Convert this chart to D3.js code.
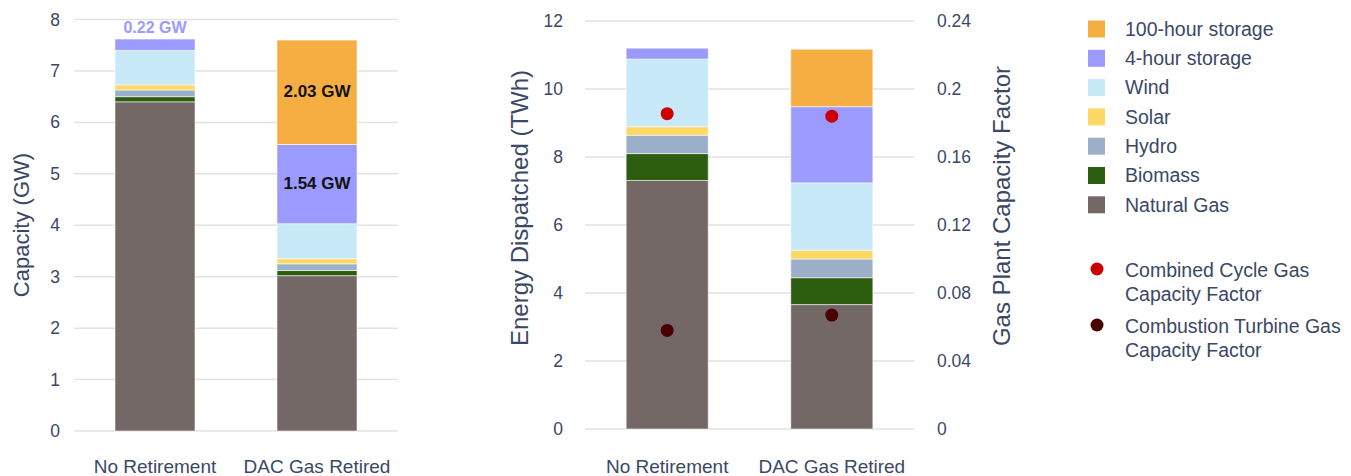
<!DOCTYPE html>
<html><head><meta charset="utf-8">
<script src="https://cdn.jsdelivr.net/npm/d3@7"></script>
<style>
html,body{margin:0;padding:0;background:#fff;}
text{font-family:"Liberation Sans",Arial,Helvetica,sans-serif;}
</style></head>
<body><svg id="c" width="1351" height="476"></svg>
<script>
// ---- data ----
const categories = ["No Retirement", "DAC Gas Retired"];
const seriesNames = ["Natural Gas", "Biomass", "Hydro", "Solar", "Wind", "4-hour storage", "100-hour storage"];
const seriesColors = ["#736866", "#2d5e10", "#9cafc8", "#fdd865", "#c7e9f8", "#9b9bff", "#f6ae42"];

// Capacity (GW)
const capNaturalGas = [6.40, 3.02];
const capBiomass    = [0.10, 0.10];
const capHydro      = [0.13, 0.13];
const capSolar      = [0.10, 0.10];
const capWind       = [0.67, 0.68];
const cap4h         = [0.22, 1.54];
const cap100h       = [0.00, 2.03];

// Energy dispatched (TWh)
const enNaturalGas = [7.31, 3.66];
const enBiomass    = [0.79, 0.79];
const enHydro      = [0.54, 0.55];
const enSolar      = [0.25, 0.26];
const enWind       = [1.99, 1.98];
const en4h         = [0.32, 2.24];
const en100h       = [0.00, 1.69];

// Gas plant capacity factors
const ccgtCF = [0.1855, 0.184];
const ctCF   = [0.058, 0.067];

const capTicks = [0,1,2,3,4,5,6,7,8];
const enTicks = [0,2,4,6,8,10,12];
const cfTicks = [0,0.04,0.08,0.12,0.16,0.2,0.24];

// ---- build tables ----
const capArrays = [capNaturalGas, capBiomass, capHydro, capSolar, capWind, cap4h, cap100h];
const enArrays  = [enNaturalGas, enBiomass, enHydro, enSolar, enWind, en4h, en100h];
function table(arrs){
  return categories.map((c,i)=>{
    const row={cat:c};
    seriesNames.forEach((s,j)=>row[s]=arrs[j][i]);
    return row;
  });
}
const capTable = table(capArrays);
const enTable = table(enArrays);

const svg = d3.select("#c");
const textColor = "#3a4866";
const gridColor = "#e2e2e2";
const color = d3.scaleOrdinal().domain(seriesNames).range(seriesColors);
const stack = d3.stack().keys(seriesNames);

function drawChart(opts){
  const {data, x0, x1, yTop, yBot, max, ticks, padInner, padOuter} = opts;
  const x = d3.scaleBand().domain(categories).range([x0, x1]).paddingInner(padInner).paddingOuter(padOuter);
  const y = d3.scaleLinear().domain([0, max]).range([yBot, yTop]);
  const g = svg.append("g");
  g.append("g").selectAll("line").data(ticks).join("line")
    .attr("x1", x0).attr("x2", x1)
    .attr("y1", d=>y(d)).attr("y2", d=>y(d))
    .attr("stroke", gridColor).attr("stroke-width", 1.5);
  const layers = stack(data);
  g.append("g").selectAll("g").data(layers).join("g")
    .attr("fill", d=>color(d.key))
    .selectAll("rect").data(d=>d.filter(s=>s[1]-s[0]>0)).join("rect")
    .attr("x", d=>x(d.data.cat)).attr("width", x.bandwidth())
    .attr("y", d=>y(d[1])).attr("height", d=>y(d[0])-y(d[1]))
    .attr("stroke", "rgba(255,255,255,0.55)").attr("stroke-width", 1);
  const ax = d3.axisBottom(x).tickSize(0).tickPadding(0);
  const axg = g.append("g").attr("transform", `translate(0,473)`).call(ax);
  axg.select(".domain").remove();
  axg.selectAll("text").attr("fill", textColor).attr("font-size", 19).attr("dy", 0)
    .style("font-family", '"Liberation Sans",Arial,sans-serif');
  return {x, y, g, layers};
}

// ---- left chart ----
const L = drawChart({data: capTable, x0: 74, x1: 398, yTop: 19.5, yBot: 431, max: 8, ticks: capTicks, padInner: 0.506, padOuter: 0.253});
{
  const ay = d3.axisLeft(L.y).tickValues(capTicks).tickSize(0).tickPadding(0).tickFormat(d3.format("d"));
  const ag = svg.append("g").attr("transform", "translate(60,0)").call(ay);
  ag.select(".domain").remove();
  ag.selectAll("text").attr("fill", textColor).attr("font-size", 17.5).style("font-family", '"Liberation Sans",Arial,sans-serif');
  svg.append("text").attr("transform", "translate(29,225) rotate(-90)")
    .attr("text-anchor", "middle").attr("fill", textColor).attr("font-size", 22).text("Capacity (GW)");
  const c0 = categories[0], c1 = categories[1];
  const top0 = L.layers[L.layers.length-1].find(d=>d.data.cat===c0)[1];
  svg.append("text").attr("x", L.x(c0)+L.x.bandwidth()/2).attr("y", L.y(top0)-6)
    .attr("text-anchor", "middle").attr("fill", "#9b9bff").attr("font-weight", "bold").attr("font-size", 16)
    .text(cap4h[0].toFixed(2) + " GW");
  const s100 = L.layers[6].find(d=>d.data.cat===c1);
  const s4 = L.layers[5].find(d=>d.data.cat===c1);
  [[s100, cap100h[1]], [s4, cap4h[1]]].forEach(([s,v])=>{
    svg.append("text").attr("x", L.x(c1)+L.x.bandwidth()/2).attr("y", (L.y(s[0])+L.y(s[1]))/2 - 1)
      .attr("dy", "0.35em").attr("text-anchor", "middle").attr("fill", "#111").attr("font-weight", "bold").attr("font-size", 17)
      .text(v.toFixed(2) + " GW");
  });
}

// ---- right chart ----
const R = drawChart({data: enTable, x0: 585, x1: 914, yTop: 21, yBot: 429, max: 12, ticks: enTicks, padInner: 0.5015, padOuter: 0.25});
{
  const ay = d3.axisLeft(R.y).tickValues(enTicks).tickSize(0).tickPadding(0).tickFormat(d3.format("d"));
  const ag = svg.append("g").attr("transform", "translate(563,0)").call(ay);
  ag.select(".domain").remove();
  ag.selectAll("text").attr("fill", textColor).attr("font-size", 17.5).style("font-family", '"Liberation Sans",Arial,sans-serif');
  svg.append("text").attr("transform", "translate(528,208) rotate(-90)")
    .attr("text-anchor", "middle").attr("fill", textColor).attr("font-size", 24).text("Energy Dispatched (TWh)");

  const y2 = d3.scaleLinear().domain([0, 0.24]).range([429, 21]);
  const ay2 = d3.axisRight(y2).tickValues(cfTicks).tickSize(0).tickPadding(0).tickFormat(d=>d===0?"0":String(+d.toFixed(2)));
  const ag2 = svg.append("g").attr("transform", "translate(937,0)").call(ay2);
  ag2.select(".domain").remove();
  ag2.selectAll("text").attr("fill", textColor).attr("font-size", 17.5).style("font-family", '"Liberation Sans",Arial,sans-serif');
  svg.append("text").attr("transform", "translate(1010,206) rotate(-90)")
    .attr("text-anchor", "middle").attr("fill", textColor).attr("font-size", 24).text("Gas Plant Capacity Factor");

  const cx = c=>R.x(c)+R.x.bandwidth()/2;
  svg.append("g").selectAll("circle").data(categories).join("circle")
    .attr("cx", cx).attr("cy", (c,i)=>y2(ccgtCF[i])).attr("r", 6.5).attr("fill", "#cc0000");
  svg.append("g").selectAll("circle").data(categories).join("circle")
    .attr("cx", cx).attr("cy", (c,i)=>y2(ctCF[i])).attr("r", 6.5).attr("fill", "#4a0000");
}

// ---- legend ----
{
  const order = seriesNames.slice().reverse();
  const lg = svg.append("g");
  const rows = lg.selectAll("g").data(order).join("g")
    .attr("transform", (d,i)=>`translate(1088,${29 + i*29.3})`);
  rows.append("rect").attr("x", 0).attr("y", -8.5).attr("width", 17).attr("height", 17).attr("fill", d=>color(d));
  rows.append("text").attr("x", 37).attr("dy", "0.35em").attr("fill", textColor).attr("font-size", 19.5).text(d=>d);

  const dots = [
    {c:"#cc0000", y:270, lines:["Combined Cycle Gas", "Capacity Factor"]},
    {c:"#4a0000", y:326, lines:["Combustion Turbine Gas", "Capacity Factor"]}
  ];
  const dg = lg.selectAll("g.dot").data(dots).join("g").attr("class","dot")
    .attr("transform", d=>`translate(1097,${d.y})`);
  dg.append("circle").attr("r", 6.5).attr("fill", d=>d.c).attr("cy", -1);
  dg.each(function(d){
    const t = d3.select(this).append("text").attr("x", 28).attr("fill", textColor).attr("font-size", 19.5);
    d.lines.forEach((ln,i)=>t.append("tspan").attr("x", 28).attr("dy", i===0 ? "0.35em" : "1.25em").text(ln));
  });
}
</script></body></html>
